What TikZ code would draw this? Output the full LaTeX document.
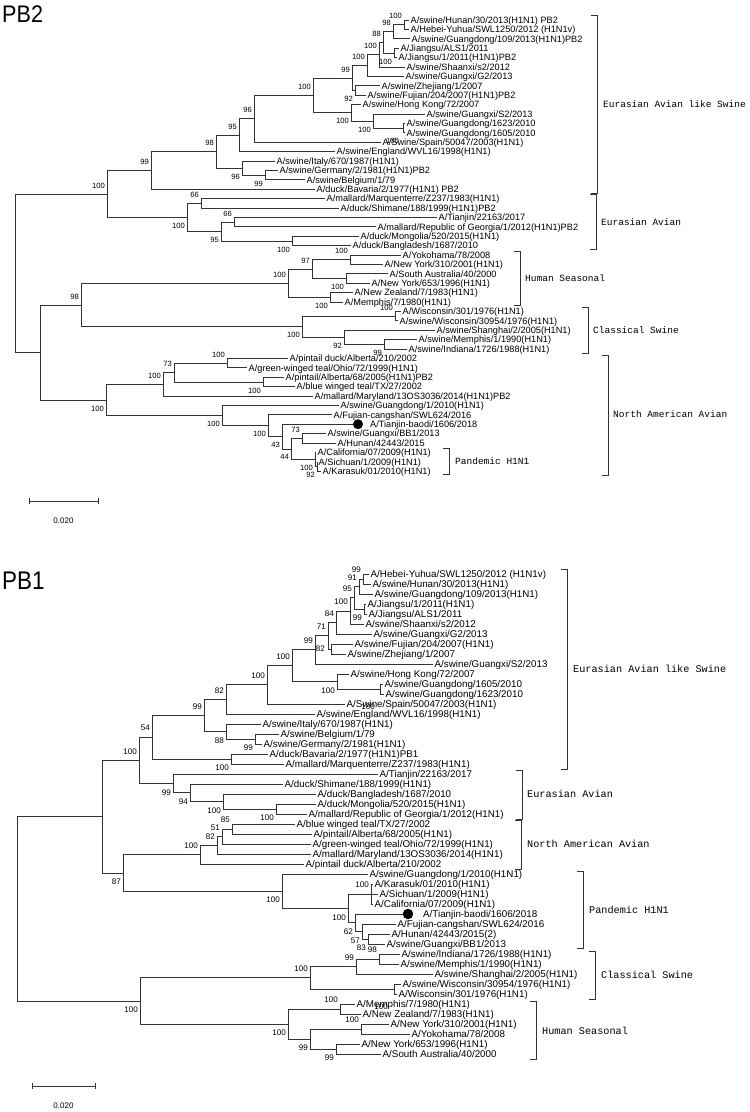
\documentclass[tikz,border=0pt]{standalone}
\usepackage{fontspec}
\setmainfont{Liberation Sans}
\newfontfamily\monof{Liberation Mono}
\usetikzlibrary{calc}
\tikzset{
  br/.style={draw=black!80, line width=0.75pt},
  leafA/.style={anchor=west, inner xsep=1.5pt, inner ysep=0pt, font=\fontsize{9.2}{10}\selectfont, text height=6.6pt, text depth=0pt},
  leafB/.style={anchor=west, inner xsep=1.5pt, inner ysep=0pt, font=\fontsize{9.8}{11}\selectfont, text height=7pt, text depth=0pt},
  bsA/.style={anchor=east, inner sep=0pt, font=\fontsize{7.6}{8}\selectfont},
  bsB/.style={anchor=east, inner sep=0pt, font=\fontsize{8.1}{9}\selectfont},
  cladeA/.style={anchor=west, inner sep=0pt, font=\monof\fontsize{9.5}{10}\selectfont},
  cladeB/.style={anchor=west, inner sep=0pt, font=\monof\fontsize{10.2}{11}\selectfont},
  dotn/.style={circle, fill=black, inner sep=0pt, minimum size=10pt},
  titlen/.style={anchor=base west, inner sep=0pt},
  scalelab/.style={inner sep=0pt, font=\fontsize{8}{9}\selectfont},
}
% internal node: name, x, child1, child2
\newcommand{\mkn}[4]{%
  \path let \p1=(#3), \p2=(#4) in coordinate (#1) at (#2pt,{0.5*\y1+0.5*\y2});
  \draw[br] (#1) |- (#3); \draw[br] (#1) |- (#4);}
\newcommand{\ba}[2]{\node[bsA] (#1-bs) at ([xshift=-2pt,yshift=8.5pt]#1) {#2};}
\newcommand{\bb}[2]{\node[bsA] (#1-bs) at ([xshift=-2pt,yshift=-8.5pt]#1) {#2};}
\newcommand{\Ba}[2]{\node[bsB] (#1-bs) at ([xshift=-2pt,yshift=9pt]#1) {#2};}
\newcommand{\Bb}[2]{\node[bsB] (#1-bs) at ([xshift=-2pt,yshift=-9pt]#1) {#2};}
\begin{document}
\begin{tikzpicture}[x=1pt,y=-1pt]
\fill[white] (0,0) rectangle (750,1112);
\useasboundingbox (0,0) rectangle (750,1112);

% ================= PB2 =================
\node[titlen, font=\fontsize{24}{28}\selectfont] (title2) at (2,22) {\scalebox{0.9}[1]{PB2}};

\node[leafA] (L1) at (409,20.0) {A/swine/Hunan/30/2013(H1N1) PB2};
\node[leafA] (L2) at (409,29.4) {A/Hebei-Yuhua/SWL1250/2012 (H1N1v)};
\node[leafA] (L3) at (410,38.8) {A/swine/Guangdong/109/2013(H1N1)PB2};
\node[leafA] (L4) at (399,48.2) {A/Jiangsu/ALS1/2011};
\node[leafA] (L5) at (397,57.6) {A/Jiangsu/1/2011(H1N1)PB2};
\node[leafA] (L6) at (405,67.0) {A/swine/Shaanxi/s2/2012};
\node[leafA] (L7) at (404,76.4) {A/swine/Guangxi/G2/2013};
\node[leafA] (L8) at (380,85.8) {A/swine/Zhejiang/1/2007};
\node[leafA] (L9) at (366,95.2) {A/swine/Fujian/204/2007(H1N1)PB2};
\node[leafA] (L10) at (361,104.6) {A/swine/Hong Kong/72/2007};
\node[leafA] (L11) at (425,114.0) {A/swine/Guangxi/S2/2013};
\node[leafA] (L12) at (405,123.4) {A/swine/Guangdong/1623/2010};
\node[leafA] (L13) at (405,132.8) {A/swine/Guangdong/1605/2010};
\node[leafA] (L14) at (381,142.2) {A/Swine/Spain/50047/2003(H1N1)};
\node[leafA] (L15) at (335,151.6) {A/swine/England/WVL16/1998(H1N1)};
\node[leafA] (L16) at (275,161.0) {A/swine/Italy/670/1987(H1N1)};
\node[leafA] (L17) at (278,170.4) {A/swine/Germany/2/1981(H1N1)PB2};
\node[leafA] (L18) at (305,179.8) {A/swine/Belgium/1/79};
\node[leafA] (L19) at (315,189.2) {A/duck/Bavaria/2/1977(H1N1) PB2};
\node[leafA] (L20) at (325,198.6) {A/mallard/Marquenterre/Z237/1983(H1N1)};
\node[leafA] (L21) at (339,208.0) {A/duck/Shimane/188/1999(H1N1)PB2};
\node[leafA] (L22) at (437,217.4) {A/Tianjin/22163/2017};
\node[leafA] (L23) at (376,226.8) {A/mallard/Republic of Georgia/1/2012(H1N1)PB2};
\node[leafA] (L24) at (359,236.2) {A/duck/Mongolia/520/2015(H1N1)};
\node[leafA] (L25) at (351,245.6) {A/duck/Bangladesh/1687/2010};
\node[leafA] (L26) at (401,255.0) {A/Yokohama/78/2008};
\node[leafA] (L27) at (383,264.4) {A/New York/310/2001(H1N1)};
\node[leafA] (L28) at (388,273.8) {A/South Australia/40/2000};
\node[leafA] (L29) at (370,283.2) {A/New York/653/1996(H1N1)};
\node[leafA] (L30) at (353,292.6) {A/New Zealand/7/1983(H1N1)};
\node[leafA] (L31) at (343,302.0) {A/Memphis/7/1980(H1N1)};
\node[leafA] (L32) at (401,311.4) {A/Wisconsin/301/1976(H1N1)};
\node[leafA] (L33) at (398,320.8) {A/swine/Wisconsin/30954/1976(H1N1)};
\node[leafA] (L34) at (435,330.2) {A/swine/Shanghai/2/2005(H1N1)};
\node[leafA] (L35) at (417,339.6) {A/swine/Memphis/1/1990(H1N1)};
\node[leafA] (L36) at (407,349.0) {A/swine/Indiana/1726/1988(H1N1)};
\node[leafA] (L37) at (288,358.4) {A/pintail duck/Alberta/210/2002};
\node[leafA] (L38) at (247,367.8) {A/green-winged teal/Ohio/72/1999(H1N1)};
\node[leafA] (L39) at (284,377.2) {A/pintail/Alberta/68/2005(H1N1)PB2};
\node[leafA] (L40) at (295,386.6) {A/blue winged teal/TX/27/2002};
\node[leafA] (L41) at (313,396.0) {A/mallard/Maryland/13OS3036/2014(H1N1)PB2};
\node[leafA] (L42) at (339,405.4) {A/swine/Guangdong/1/2010(H1N1)};
\node[leafA] (L43) at (332,414.8) {A/Fujian-cangshan/SWL624/2016};
\node[dotn] (D44) at (358,424.2) {};
\node[leafA] (L44) at (368.5,424.2) {A/Tianjin-baodi/1606/2018};
\node[leafA] (L45) at (326,433.6) {A/swine/Guangxi/BB1/2013};
\node[leafA] (L46) at (336,443.0) {A/Hunan/42443/2015};
\node[leafA] (L47) at (316,452.4) {A/California/07/2009(H1N1)};
\node[leafA] (L48) at (317,461.8) {A/Sichuan/1/2009(H1N1)};
\node[leafA] (L49) at (321,471.2) {A/Karasuk/01/2010(H1N1)};

\mkn{n1}{404}{L1.west}{L2.west}
\mkn{n2}{393}{n1}{L3.west}
\mkn{n3}{394}{L4.west}{L5.west}
\mkn{n4}{383}{n2}{n3}
\mkn{n5}{379}{n4}{L6.west}
\mkn{n6}{367}{n5}{L7.west}
\mkn{n8}{355}{L8.west}{L9.west}
\mkn{n7}{352}{n6}{n8}
\mkn{n11}{403}{L12.west}{L13.west}
\mkn{n10}{373}{L11.west}{n11}
\mkn{n9}{351}{L10.west}{n10}
\mkn{P100}{313}{n7}{n9}
\mkn{G96}{254}{P100}{L14.west}
\mkn{E}{239}{G96}{L15.west}
\mkn{G}{265}{L17.west}{L18.west}
\mkn{F}{242}{L16.west}{G}
\mkn{D}{216}{E}{F}
\mkn{B}{151}{D}{L19.west}
\mkn{K1}{201}{L20.west}{L21.west}
\mkn{K2}{234}{L22.west}{L23.west}
\mkn{K3}{292}{L24.west}{L25.west}
\mkn{K4}{221}{K2}{K3}
\mkn{C}{187}{K1}{K4}
\mkn{A}{107}{B}{C}
\mkn{HSa}{350}{L26.west}{L27.west}
\mkn{HSb}{346}{L28.west}{L29.west}
\mkn{HSo}{312}{HSa}{HSb}
\mkn{HSc}{330}{L30.west}{L31.west}
\mkn{HS}{288}{HSo}{HSc}
\mkn{W}{395}{L32.west}{L33.west}
\mkn{CSc}{384}{L35.west}{L36.west}
\mkn{CSb}{344}{L34.west}{CSc}
\mkn{CS}{302}{W}{CSb}
\mkn{H}{81}{HS}{CS}
\mkn{NAa}{227}{L37.west}{L38.west}
\mkn{NAb}{263}{L39.west}{L40.west}
\mkn{NAt}{174}{NAa}{NAb}
\mkn{NAo}{163}{NAt}{L41.west}
\mkn{P6}{317}{L48.west}{L49.west}
\mkn{P5}{315}{L47.west}{P6}
\mkn{P4}{302}{L45.west}{L46.west}
\mkn{P3}{291}{P4}{P5}
\mkn{P2}{282}{D44.west}{P3}
\mkn{P1}{268}{L43.west}{P2}
\mkn{P0}{222}{L42.west}{P1}
\mkn{NA}{106}{NAo}{P0}
\mkn{Y}{40}{H}{NA}
\mkn{R}{15}{A}{Y}

\ba{n1}{100} \ba{n2}{98} \bb{n3}{100} \ba{n4}{88} \ba{n5}{100} \ba{n6}{100}
\ba{n7}{99} \bb{n8}{92} \bb{n9}{100} \bb{n10}{100}
\node[bsA] (n11-bs) at (399,141) {100};
\ba{P100}{100} \ba{G96}{96} \ba{E}{95} \bb{F}{96} \bb{G}{99} \ba{D}{98} \ba{B}{99}
\ba{K1}{66} \ba{K2}{66} \bb{K3}{100} \bb{K4}{95} \bb{C}{100} \ba{A}{100}
\ba{HSa}{100} \bb{HSb}{100} \ba{HSo}{97} \bb{HSc}{100} \ba{HS}{100}
\ba{W}{100} \bb{CSc}{99} \bb{CSb}{92} \bb{CS}{100} \ba{H}{98}
\ba{NAa}{100} \bb{NAb}{100} \ba{NAt}{73} \ba{NAo}{100}
\bb{P6}{92} \bb{P5}{100} \ba{P4}{73} \bb{P3}{44} \bb{P2}{43} \bb{P1}{100} \bb{P0}{100} \bb{NA}{100}

% clade brackets PB2
\draw[br] (591,15) -- (597,15) -- (597,193) -- (591,193);
\node[cladeA] (cl2a) at (603,104) {Eurasian Avian like Swine};
\draw[br] (590,194) -- (596,194) -- (596,249) -- (590,249);
\node[cladeA] (cl2b) at (601,222) {Eurasian Avian};
\draw[br] (514,251) -- (520,251) -- (520,305) -- (514,305);
\node[cladeA] (cl2c) at (525,278) {Human Seasonal};
\draw[br] (582,307) -- (588,307) -- (588,353) -- (582,353);
\node[cladeA] (cl2d) at (593,330) {Classical Swine};
\draw[br] (602,355) -- (608,355) -- (608,475) -- (602,475);
\node[cladeA] (cl2e) at (613,414) {North American Avian};
\draw[br] (443,448) -- (449,448) -- (449,474) -- (443,474);
\node[cladeA] (cl2f) at (455,461) {Pandemic H1N1};

% scale bar PB2
\coordinate (sb2a) at (29,501);
\coordinate (sb2b) at (98,501);
\draw[br] (sb2a) -- (sb2b);
\draw[br] ([yshift=3pt]sb2a) -- ([yshift=-3pt]sb2a);
\draw[br] ([yshift=3pt]sb2b) -- ([yshift=-3pt]sb2b);
\node[scalelab] (sb2l) at (63.5,521) {0.020};

% ================= PB1 =================
\node[titlen, font=\fontsize{25.5}{30}\selectfont] (title1) at (2,589) {\scalebox{0.88}[1]{PB1}};

\node[leafB] (M1) at (369,574) {A/Hebei-Yuhua/SWL1250/2012 (H1N1v)};
\node[leafB] (M2) at (371,584) {A/swine/Hunan/30/2013(H1N1)};
\node[leafB] (M3) at (373,594) {A/swine/Guangdong/109/2013(H1N1)};
\node[leafB] (M4) at (366,604) {A/Jiangsu/1/2011(H1N1)};
\node[leafB] (M5) at (367,614) {A/Jiangsu/ALS1/2011};
\node[leafB] (M6) at (364,624) {A/swine/Shaanxi/s2/2012};
\node[leafB] (M7) at (372,634) {A/swine/Guangxi/G2/2013};
\node[leafB] (M8) at (353,644) {A/swine/Fujian/204/2007(H1N1)};
\node[leafB] (M9) at (346,654) {A/swine/Zhejiang/1/2007};
\node[leafB] (M10) at (433,664) {A/swine/Guangxi/S2/2013};
\node[leafB] (M11) at (349,674) {A/swine/Hong Kong/72/2007};
\node[leafB] (M12) at (383,684) {A/swine/Guangdong/1605/2010};
\node[leafB] (M13) at (384,694) {A/swine/Guangdong/1623/2010};
\node[leafB] (M14) at (345,704) {A/Swine/Spain/50047/2003(H1N1)};
\node[leafB] (M15) at (315,714) {A/swine/England/WVL16/1998(H1N1)};
\node[leafB] (M16) at (261,724) {A/swine/Italy/670/1987(H1N1)};
\node[leafB] (M17) at (279,734) {A/swine/Belgium/1/79};
\node[leafB] (M18) at (262,744) {A/swine/Germany/2/1981(H1N1)};
\node[leafB] (M19) at (268,754) {A/duck/Bavaria/2/1977(H1N1)PB1};
\node[leafB] (M20) at (284,764) {A/mallard/Marquenterre/Z237/1983(H1N1)};
\node[leafB] (M21) at (378,774) {A/Tianjin/22163/2017};
\node[leafB] (M22) at (283,784) {A/duck/Shimane/188/1999(H1N1)};
\node[leafB] (M23) at (316,794) {A/duck/Bangladesh/1687/2010};
\node[leafB] (M24) at (316,804) {A/duck/Mongolia/520/2015(H1N1)};
\node[leafB] (M25) at (307,814) {A/mallard/Republic of Georgia/1/2012(H1N1)};
\node[leafB] (M26) at (295,824) {A/blue winged teal/TX/27/2002};
\node[leafB] (M27) at (312,834) {A/pintail/Alberta/68/2005(H1N1)};
\node[leafB] (M28) at (311,844) {A/green-winged teal/Ohio/72/1999(H1N1)};
\node[leafB] (M29) at (311,854) {A/mallard/Maryland/13OS3036/2014(H1N1)};
\node[leafB] (M30) at (304,864) {A/pintail duck/Alberta/210/2002};
\node[leafB] (M31) at (368,874) {A/swine/Guangdong/1/2010(H1N1)};
\node[leafB] (M32) at (373,884) {A/Karasuk/01/2010(H1N1)};
\node[leafB] (M33) at (378,894) {A/Sichuan/1/2009(H1N1)};
\node[leafB] (M34) at (373,904) {A/California/07/2009(H1N1)};
\node[dotn, minimum size=10.5pt] (D35) at (408,914) {};
\node[leafB] (M35) at (421.5,914) {A/Tianjin-baodi/1606/2018};
\node[leafB] (M36) at (396,924) {A/Fujian-cangshan/SWL624/2016};
\node[leafB] (M37) at (390,934) {A/Hunan/42443/2015(2)};
\node[leafB] (M38) at (385,944) {A/swine/Guangxi/BB1/2013};
\node[leafB] (M39) at (400,954) {A/swine/Indiana/1726/1988(H1N1)};
\node[leafB] (M40) at (399,964) {A/swine/Memphis/1/1990(H1N1)};
\node[leafB] (M41) at (433,974) {A/swine/Shanghai/2/2005(H1N1)};
\node[leafB] (M42) at (401,984) {A/swine/Wisconsin/30954/1976(H1N1)};
\node[leafB] (M43) at (397,994) {A/Wisconsin/301/1976(H1N1)};
\node[leafB] (M44) at (355,1004) {A/Memphis/7/1980(H1N1)};
\node[leafB] (M45) at (361,1014) {A/New Zealand/7/1983(H1N1)};
\node[leafB] (M46) at (389,1024) {A/New York/310/2001(H1N1)};
\node[leafB] (M47) at (410,1034) {A/Yokohama/78/2008};
\node[leafB] (M48) at (360,1044) {A/New York/653/1996(H1N1)};
\node[leafB] (M49) at (381,1054) {A/South Australia/40/2000};

\mkn{m1}{363}{M1.west}{M2.west}
\mkn{m2}{359}{m1}{M3.west}
\mkn{m3}{364}{M4.west}{M5.west}
\mkn{m4}{354}{m2}{m3}
\mkn{m5}{350}{m4}{M6.west}
\mkn{m6}{336}{m5}{M7.west}
\mkn{m7}{331}{M8.west}{M9.west}
\mkn{m8}{328}{m6}{m7}
\mkn{m9}{315}{m8}{M10.west}
\mkn{m11}{380}{M12.west}{M13.west}
\mkn{m10}{337}{M11.west}{m11}
\mkn{m12}{292}{m9}{m10}
\mkn{m13}{267}{m12}{M14.west}
\mkn{m14}{226}{m13}{M15.west}
\mkn{m17}{255}{M17.west}{M18.west}
\mkn{m16}{226}{M16.west}{m17}
\mkn{m15}{204}{m14}{m16}
\mkn{m18}{231}{M19.west}{M20.west}
\mkn{m19}{152}{m15}{m18}
\mkn{m20}{276}{M24.west}{M25.west}
\mkn{m21}{223}{M23.west}{m20}
\mkn{m22}{190}{M22.west}{m21}
\mkn{m23}{173}{M21.west}{m22}
\mkn{m24}{139}{m19}{m23}
\mkn{m25}{232}{M26.west}{M27.west}
\mkn{m26}{222}{m25}{M28.west}
\mkn{m27}{217}{m26}{M29.west}
\mkn{m28}{200}{m27}{M30.west}
\path let \p1=(M32.west), \p2=(M34.west) in coordinate (pd2) at (371pt,{0.5*\y1+0.5*\y2});
\draw[br] (pd2) |- (M32.west); \draw[br] (pd2) |- (M33.west); \draw[br] (pd2) |- (M34.west);
\mkn{pd5}{368}{M37.west}{M38.west}
\mkn{pd4}{362}{M36.west}{pd5}
\mkn{pd3}{355}{D35.west}{pd4}
\mkn{pd1}{348}{pd2}{pd3}
\mkn{pd0}{282}{M31.west}{pd1}
\mkn{m29}{123}{m28}{pd0}
\mkn{Q}{102}{m24}{m29}
\mkn{c1}{379}{M39.west}{M40.west}
\mkn{c2}{356}{c1}{M41.west}
\mkn{c3}{394}{M42.west}{M43.west}
\mkn{c4}{310}{c2}{c3}
\mkn{h1}{340}{M44.west}{M45.west}
\mkn{h2}{361}{M46.west}{M47.west}
\mkn{h3}{336}{M48.west}{M49.west}
\mkn{h4}{310}{h2}{h3}
\mkn{h5}{288}{h1}{h4}
\mkn{HSq}{140}{c4}{h5}
\mkn{RR}{17}{Q}{HSq}

\Ba{m1}{99} \Ba{m2}{91} \Bb{m3}{99} \Ba{m4}{95} \Ba{m5}{100} \Ba{m6}{84}
\node[bsB] (m7-bs) at (325,649) {82};
\Ba{m8}{71} \Ba{m9}{99} \Bb{m10}{100}
\node[bsB] (m11-bs) at (375,707) {100};
\Ba{m12}{100} \Ba{m13}{100} \Ba{m14}{82} \Ba{m15}{99} \Bb{m16}{88} \Bb{m17}{99}
\Bb{m18}{100} \Ba{m19}{54} \Bb{m20}{100} \Bb{m21}{100} \Bb{m22}{94} \Bb{m23}{99} \Ba{m24}{100}
\Ba{m25}{85} \Ba{m26}{51} \Ba{m27}{82} \Ba{m28}{100}
\Ba{pd2}{100} \Bb{pd5}{83} \Bb{pd4}{57} \Bb{pd3}{62} \Bb{pd1}{100} \Bb{pd0}{100} \Bb{m29}{87}
\Ba{c1}{98} \Ba{c2}{99}
\node[bsB] (c3-bs) at (388,1007) {100};
\Ba{c4}{100} \Ba{h1}{100} \Ba{h2}{100} \Bb{h3}{99} \Bb{h4}{99} \Bb{h5}{100} \Bb{HSq}{100}

% clade brackets PB1
\draw[br] (561,569) -- (567,569) -- (567,769) -- (561,769);
\node[cladeB] (cl1a) at (573,669) {Eurasian Avian like Swine};
\draw[br] (516,770) -- (522,770) -- (522,819) -- (516,819);
\node[cladeB] (cl1b) at (527,794) {Eurasian Avian};
\draw[br] (515,820) -- (521,820) -- (521,869) -- (515,869);
\node[cladeB] (cl1c) at (527,844) {North American Avian};
\draw[br] (577,871) -- (583,871) -- (583,948) -- (577,948);
\node[cladeB] (cl1d) at (589,910) {Pandemic H1N1};
\draw[br] (589,951) -- (595,951) -- (595,999) -- (589,999);
\node[cladeB] (cl1e) at (601,975) {Classical Swine};
\draw[br] (530,1001) -- (536,1001) -- (536,1059) -- (530,1059);
\node[cladeB] (cl1f) at (542,1031) {Human Seasonal};

% scale bar PB1
\coordinate (sb1a) at (32,1086);
\coordinate (sb1b) at (95,1086);
\draw[br] (sb1a) -- (sb1b);
\draw[br] ([yshift=3pt]sb1a) -- ([yshift=-3pt]sb1a);
\draw[br] ([yshift=3pt]sb1b) -- ([yshift=-3pt]sb1b);
\node[scalelab] (sb1l) at (63.5,1106) {0.020};
\end{tikzpicture}
\end{document}
